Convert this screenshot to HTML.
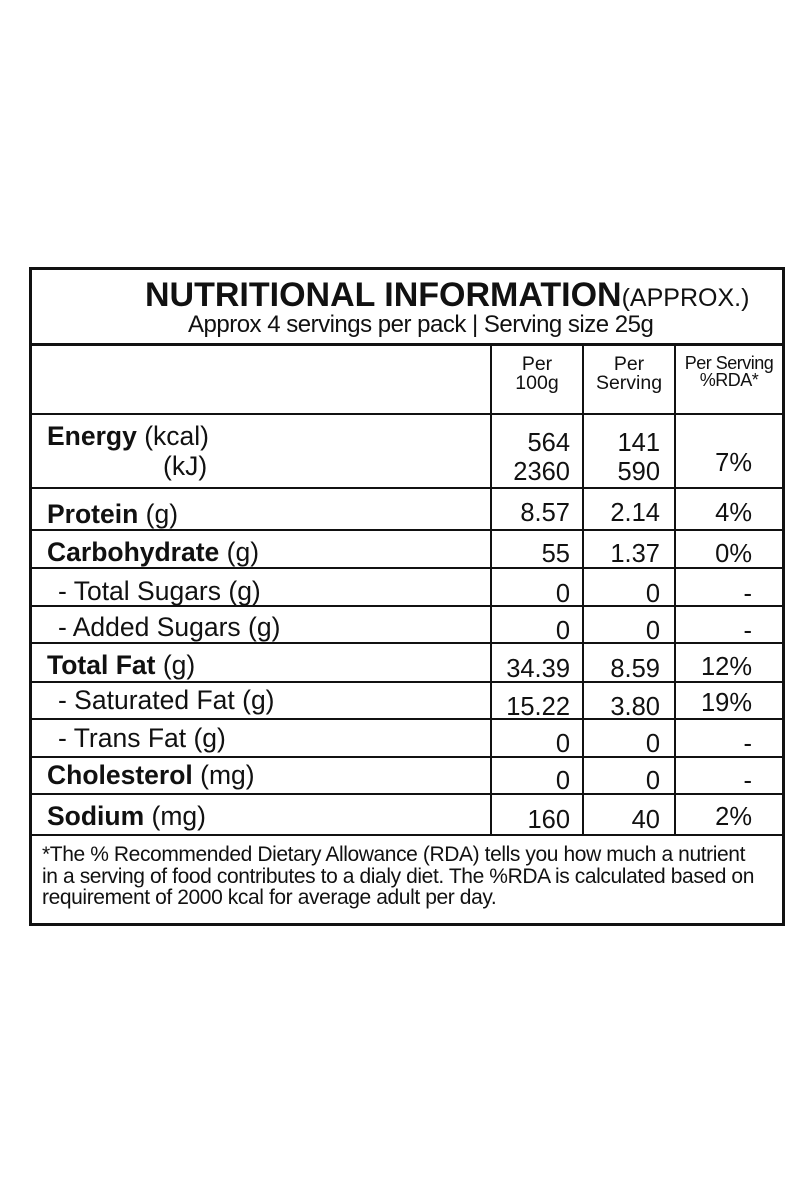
<!DOCTYPE html>
<html><head><meta charset="utf-8"><style>
body{margin:0;background:#fff;}
#c{position:relative;width:800px;height:1200px;overflow:hidden;font-family:"Liberation Sans",Arial,sans-serif;color:#111;}
.h{position:absolute;background:#111;}
.t{position:absolute;line-height:1;white-space:nowrap;}
.l{font-size:26.5px;left:47px;}
.i{font-size:26.5px;left:58px;}
.n{font-size:25.5px;text-align:right;}
.c1{right:230px;}.c2{right:140px;}.c3{right:48px;}
b{font-weight:bold;}
</style></head><body><div id="c">
<div class="h" style="left:29px;top:267px;width:756px;height:3px"></div>
<div class="h" style="left:29px;top:923px;width:756px;height:3px"></div>
<div class="h" style="left:29px;top:267px;width:3px;height:659px"></div>
<div class="h" style="left:782px;top:267px;width:3px;height:659px"></div>
<div class="h" style="left:29px;top:343px;width:756px;height:3px"></div>
<div class="h" style="left:29px;top:413px;width:756px;height:2px"></div>
<div class="h" style="left:29px;top:487px;width:756px;height:2px"></div>
<div class="h" style="left:29px;top:529px;width:756px;height:2px"></div>
<div class="h" style="left:29px;top:567px;width:756px;height:2px"></div>
<div class="h" style="left:29px;top:605px;width:756px;height:2px"></div>
<div class="h" style="left:29px;top:642px;width:756px;height:2px"></div>
<div class="h" style="left:29px;top:681px;width:756px;height:2px"></div>
<div class="h" style="left:29px;top:718px;width:756px;height:2px"></div>
<div class="h" style="left:29px;top:756px;width:756px;height:2px"></div>
<div class="h" style="left:29px;top:793px;width:756px;height:2px"></div>
<div class="h" style="left:29px;top:834px;width:756px;height:2px"></div>
<div class="h" style="left:490px;top:344px;width:2px;height:491px"></div>
<div class="h" style="left:582px;top:344px;width:2px;height:491px"></div>
<div class="h" style="left:674px;top:344px;width:2px;height:491px"></div>

<div class="t" style="left:145px;top:278px;font-size:34px;letter-spacing:0"><b>NUTRITIONAL INFORMATION</b><span style="font-size:25px">(APPROX.)</span></div>
<div class="t" style="left:188px;top:313px;font-size:24px;letter-spacing:-0.5px">Approx 4 servings per pack | Serving size 25g</div>

<div class="t" style="left:492px;width:90px;text-align:center;top:355px;font-size:19.5px;line-height:19px">Per<br>100g</div>
<div class="t" style="left:584px;width:90px;text-align:center;top:355px;font-size:19.5px;line-height:19px">Per<br>Serving</div>
<div class="t" style="left:676px;width:106px;text-align:center;top:355px;font-size:18px;line-height:17px;letter-spacing:-0.5px">Per Serving<br>%RDA*</div>

<div class="t l" style="top:423px"><b>Energy</b> (kcal)</div>
<div class="t" style="left:163px;top:453px;font-size:26.5px">(kJ)</div>
<div class="t n c1" style="top:431px">564</div><div class="t n c2" style="top:431px">141</div>
<div class="t n c1" style="top:460px">2360</div><div class="t n c2" style="top:460px">590</div>
<div class="t n c3" style="top:451px">7%</div>

<div class="t l" style="top:501px"><b>Protein</b> (g)</div>
<div class="t n c1" style="top:501px">8.57</div><div class="t n c2" style="top:501px">2.14</div><div class="t n c3" style="top:501px">4%</div>

<div class="t l" style="top:539px"><b>Carbohydrate</b> (g)</div>
<div class="t n c1" style="top:542px">55</div><div class="t n c2" style="top:542px">1.37</div><div class="t n c3" style="top:542px">0%</div>

<div class="t i" style="top:578px">- Total Sugars (g)</div>
<div class="t n c1" style="top:582px">0</div><div class="t n c2" style="top:582px">0</div><div class="t n c3" style="top:582px">-</div>

<div class="t i" style="top:614px">- Added Sugars (g)</div>
<div class="t n c1" style="top:619px">0</div><div class="t n c2" style="top:619px">0</div><div class="t n c3" style="top:619px">-</div>

<div class="t l" style="top:652px"><b>Total Fat</b> (g)</div>
<div class="t n c1" style="top:657px">34.39</div><div class="t n c2" style="top:657px">8.59</div><div class="t n c3" style="top:655px">12%</div>

<div class="t i" style="top:687px">- Saturated Fat (g)</div>
<div class="t n c1" style="top:695px">15.22</div><div class="t n c2" style="top:695px">3.80</div><div class="t n c3" style="top:691px">19%</div>

<div class="t i" style="top:725px">- Trans Fat (g)</div>
<div class="t n c1" style="top:732px">0</div><div class="t n c2" style="top:732px">0</div><div class="t n c3" style="top:732px">-</div>

<div class="t l" style="top:762px"><b>Cholesterol</b> (mg)</div>
<div class="t n c1" style="top:769px">0</div><div class="t n c2" style="top:769px">0</div><div class="t n c3" style="top:769px">-</div>

<div class="t l" style="top:803px"><b>Sodium</b> (mg)</div>
<div class="t n c1" style="top:808px">160</div><div class="t n c2" style="top:808px">40</div><div class="t n c3" style="top:805px">2%</div>

<div class="t" style="left:42px;top:844px;font-size:21px;line-height:21.5px;letter-spacing:-0.4px">*The % Recommended Dietary Allowance (RDA) tells you how much a nutrient<br>in a serving of food contributes to a dialy diet. The %RDA is calculated based on<br>requirement of 2000 kcal for average adult per day.</div>
</div></body></html>
